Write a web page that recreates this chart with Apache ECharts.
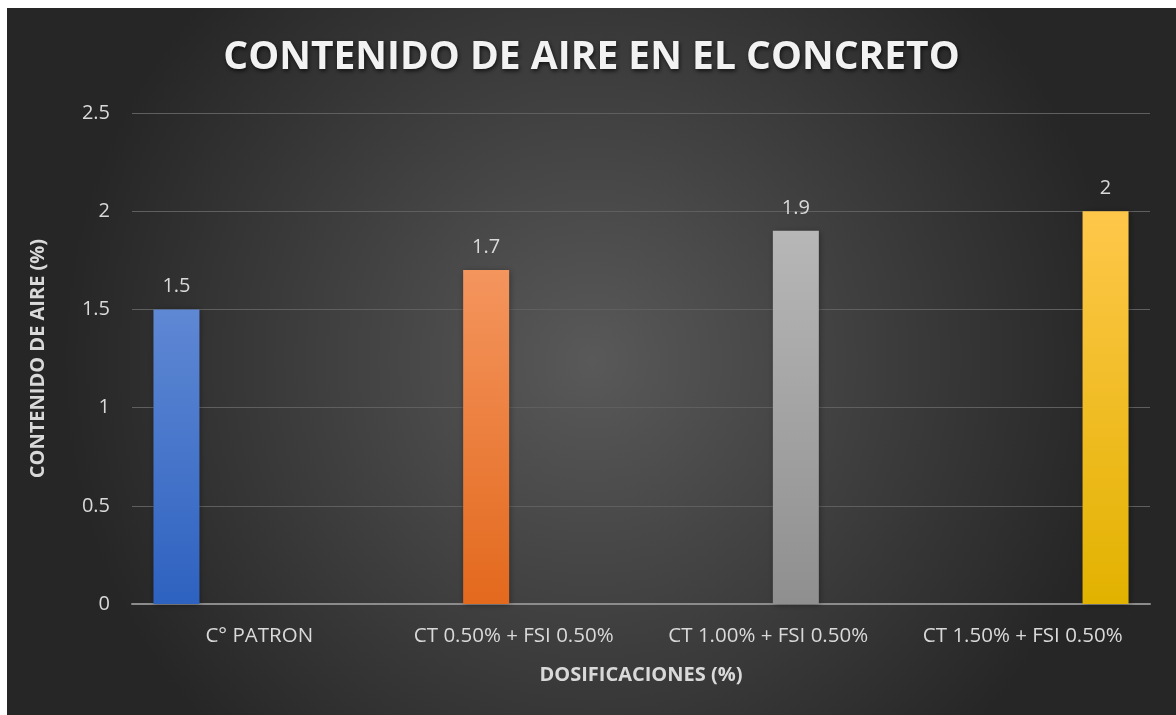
<!DOCTYPE html>
<html>
<head>
<meta charset="utf-8">
<script src="https://cdn.jsdelivr.net/npm/echarts@6/dist/echarts.min.js"></script>
<style>
html,body{margin:0;padding:0;background:#fff;}
#c{position:absolute;left:7px;top:8px;width:1169px;height:707px;}
</style>
</head>
<body>
<div id="c"></div>
<script>
const categories = ['C° PATRON', 'CT 0.50% + FSI 0.50%', 'CT 1.00% + FSI 0.50%', 'CT 1.50% + FSI 0.50%'];
const values = [1.5, 1.7, 1.9, 2];
const yTicks = [0, 0.5, 1, 1.5, 2, 2.5];
const titleText = 'CONTENIDO DE AIRE EN EL CONCRETO';
const xTitle = 'DOSIFICACIONES (%)';
const yTitle = 'CONTENIDO DE AIRE (%)';
const barColors = [
  ['#5f88d4', '#2e62c0'],
  ['#f4955e', '#e3691d'],
  ['#b7b7b7', '#8f8f8f'],
  ['#ffc74a', '#e2b200']
];

const chart = echarts.init(document.getElementById('c'), null, {renderer: 'canvas'});
const series = values.map((v, i) => ({
  type: 'bar',
  name: categories[i],
  barWidth: 46,
  barGap: '20%',
  data: categories.map((c, j) => j === i ? v : '-'),
  itemStyle: {
    color: new echarts.graphic.LinearGradient(0, 0, 0, 1, [
      {offset: 0, color: barColors[i][0]},
      {offset: 1, color: barColors[i][1]}
    ]),
    shadowColor: 'rgba(0,0,0,0.35)',
    shadowBlur: 6,
    shadowOffsetX: 1,
    shadowOffsetY: 1
  },
  label: {
    show: true,
    position: 'top',
    distance: 13,
    color: '#d9d9d9',
    fontFamily: 'Open Sans',
    fontSize: 20
  }
}));

chart.setOption({
  backgroundColor: new echarts.graphic.RadialGradient(0.5, 0.5, 0.75, [
    {offset: 0, color: '#595959'},
    {offset: 1, color: '#262626'}
  ]),
  animation: false,
  title: {
    text: titleText,
    left: 'center',
    top: 25,
    textStyle: {
      color: '#f2f2f2',
      fontFamily: 'Open Sans',
      fontWeight: 'bold',
      fontSize: 39,
      textShadowColor: 'rgba(0,0,0,0.7)',
      textShadowBlur: 4,
      textShadowOffsetX: 1,
      textShadowOffsetY: 2
    }
  },
  grid: {left: 125, right: 26, top: 105, bottom: 111, containLabel: false},
  xAxis: {
    type: 'category',
    data: categories,
    name: xTitle,
    nameLocation: 'middle',
    nameGap: 61,
    nameTextStyle: {color: '#d9d9d9', fontFamily: 'Open Sans', fontWeight: 'bold', fontSize: 20},
    axisLine: {lineStyle: {color: '#8c8c8c', width: 2}},
    axisTick: {show: false},
    axisLabel: {color: '#d9d9d9', fontFamily: 'Open Sans', fontSize: 20.5, margin: 22, interval: 0, hideOverlap: false}
  },
  yAxis: {
    type: 'value',
    min: 0,
    max: 2.5,
    interval: 0.5,
    name: yTitle,
    nameLocation: 'middle',
    nameGap: 84,
    nameTextStyle: {color: '#d9d9d9', fontFamily: 'Open Sans', fontWeight: 'bold', fontSize: 20},
    axisLine: {show: false},
    axisTick: {show: false},
    splitLine: {lineStyle: {color: '#5f5f5f', width: 1}},
    axisLabel: {
      color: '#d9d9d9', fontFamily: 'Open Sans', fontSize: 20, margin: 22,
      formatter: v => yTicks.includes(v) ? String(v) : ''
    }
  },
  series: series
});
</script>
</body>
</html>
